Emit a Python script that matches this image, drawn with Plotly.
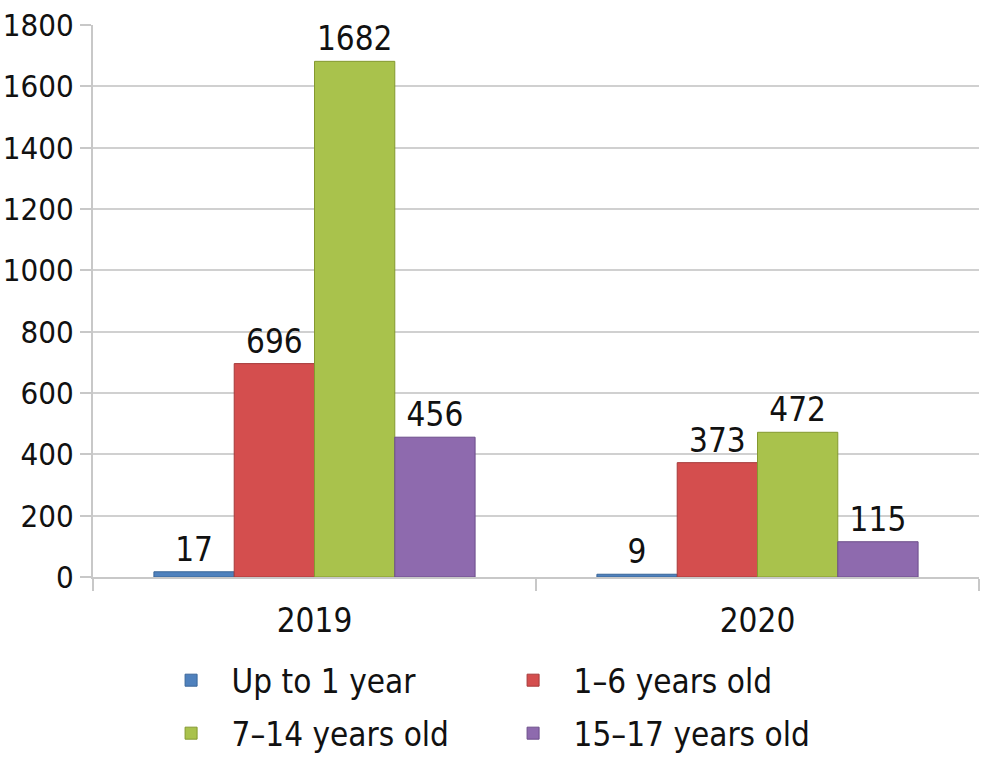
import plotly.graph_objects as go

years = ["2019", "2020"]
series_names = ["Up to 1 year", "1–6 years old", "7–14 years old", "15–17 years old"]
values = {
    "Up to 1 year": [17, 9],
    "1–6 years old": [696, 373],
    "7–14 years old": [1682, 472],
    "15–17 years old": [456, 115],
}
colors = ["#4F81BD", "#D44E4E", "#A9C24C", "#8E6AAE"]
edge_colors = ["#3A6699", "#A63A3A", "#84992F", "#6C4E8A"]
legend_rows = ["legend", "legend", "legend2", "legend2"]
y_ticks = [0, 200, 400, 600, 800, 1000, 1200, 1400, 1600, 1800]

FONT = "DejaVu Sans Condensed, Roboto, sans-serif"
FS = 33

fig = go.Figure()
for name, c, ec, lg in zip(series_names, colors, edge_colors, legend_rows):
    fig.add_trace(go.Bar(
        x=years, y=values[name], name=name, legend=lg,
        marker=dict(color=c, line=dict(color=ec, width=1)),
        text=[str(v) for v in values[name]],
        textposition="outside", constraintext="none", cliponaxis=False,
        textfont=dict(family=FONT, size=FS, color="#111111"),
    ))

legend_common = dict(
    orientation="h", x=0.065, xanchor="left", yanchor="middle",
    entrywidth=256, entrywidthmode="pixels", itemwidth=71,
    font=dict(family=FONT, size=FS, color="#111111"),
    traceorder="normal", bgcolor="rgba(0,0,0,0)",
)

# figure is slightly taller than the window so the lower legend row
# does not push the bottom margin; plot area still ends at y=577
fig.update_layout(
    width=981, height=772,
    barmode="group", bargap=0.275, bargroupgap=0,
    plot_bgcolor="white", paper_bgcolor="white",
    margin=dict(l=93, r=2, t=25, b=195),
    font=dict(family=FONT, size=FS, color="#111111"),
    showlegend=True,
    legend=dict(y=-0.187, **legend_common),
    legend2=dict(y=-0.283, **legend_common),
    xaxis=dict(
        showline=True, linecolor="#C8C8C8", linewidth=2,
        ticks="outside", tickson="boundaries", ticklen=12, tickcolor="#C8C8C8", tickwidth=2,
        showgrid=False, automargin=False, ticklabelstandoff=13,
        tickfont=dict(family=FONT, size=FS, color="#111111"),
    ),
    yaxis=dict(
        range=[0, 1800.5], tickvals=y_ticks, ticktext=[str(v) for v in y_ticks],
        showline=True, linecolor="#C8C8C8", linewidth=2,
        ticks="outside", ticklen=11, tickcolor="#C8C8C8", tickwidth=2,
        showgrid=True, gridcolor="#D0D0D0", gridwidth=2,
        zeroline=False, automargin=False, ticklabeloverflow="allow",
        tickfont=dict(family=FONT, size=31, color="#111111"),
    ),
)

fig.write_html("out.html", config={"displayModeBar": False},
               post_script="document.body.style.margin='0';")
